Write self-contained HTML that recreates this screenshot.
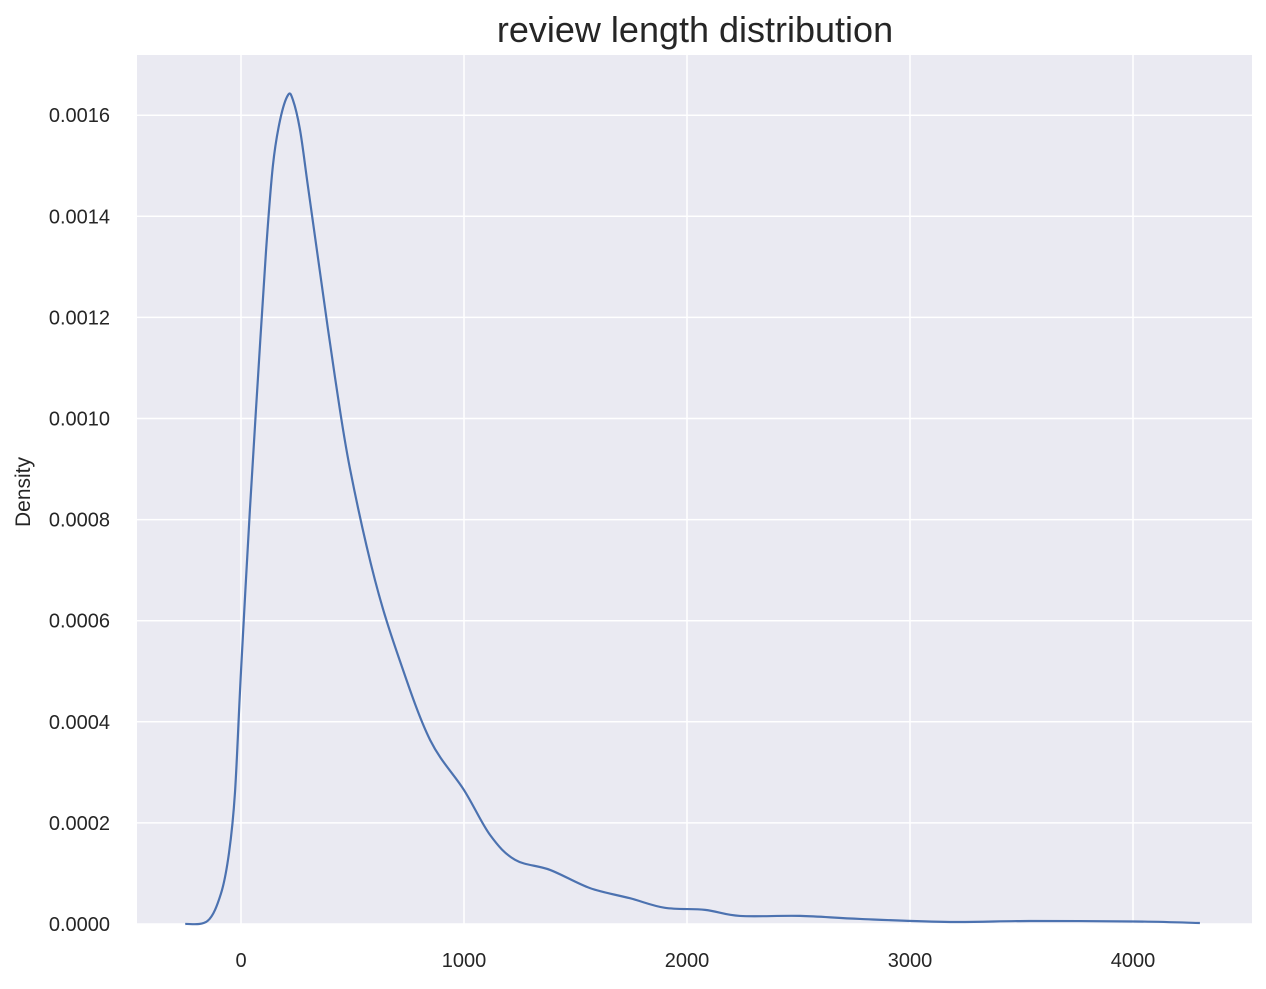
<!DOCTYPE html>
<html><head><meta charset="utf-8"><style>
body{margin:0;background:#fff;font-family:"Liberation Sans",sans-serif;}
</style></head><body>
<svg width="1266" height="984" id="chart" xmlns="http://www.w3.org/2000/svg">
<text x="695" y="42" text-anchor="middle" font-size="36" fill="#262626">review length distribution</text>
<text transform="translate(30,492) rotate(-90)" text-anchor="middle" font-size="21" fill="#262626">Density</text>
</svg>
<script>
const xTicks=[0,1000,2000,3000,4000];
const yTicks=[0,0.0002,0.0004,0.0006,0.0008,0.0010,0.0012,0.0014,0.0016];
const yTickLabels=["0.0000","0.0002","0.0004","0.0006","0.0008","0.0010","0.0012","0.0014","0.0016"];
const xs=[-250,-150,-90,-54,-27,0,40,76,112,143,175,211,233,265,300,354,422,489,601,713,848,1000,1117,1229,1386,1565,1744,1901,2081,2238,2507,2776,3179,3538,4009,4300];
const ys=[0,0.000006,0.00006,0.00014,0.00026,0.0005,0.00082,0.00108,0.00133,0.0015,0.00159,0.00164,0.00163,0.00157,0.00146,0.00129,0.00108,0.0009,0.00068,0.00052,0.000364,0.000265,0.000176,0.000127,0.000107,0.000071,0.000051,0.000032,0.000028,0.000016,0.000016,0.00001,0.000004,0.000006,0.000005,0.000002];
const L=137,R=1252,T=55,B=924;
const sx=v=>241+v*0.223;
const sy=v=>B-v*505500;
const svg=document.getElementById('chart');
const NS='http://www.w3.org/2000/svg';
function mk(t,a){const e=document.createElementNS(NS,t);for(const k in a)e.setAttribute(k,a[k]);svg.appendChild(e);return e;}
const bg=mk('rect',{x:L,y:T,width:R-L,height:B-T,fill:'#eaeaf2'});


xTicks.forEach(v=>{
 const g=mk('line',{x1:sx(v),x2:sx(v),y1:T,y2:B,stroke:'#fff','stroke-width':1.5});
 
 
 const t=mk('text',{x:sx(v),y:B+43,'text-anchor':'middle','font-size':20,fill:'#262626'});
 t.textContent=v;
 
 
});
yTicks.forEach((v,i)=>{
 const g=mk('line',{x1:L,x2:R,y1:sy(v),y2:sy(v),stroke:'#fff','stroke-width':1.5});
 
 
 const t=mk('text',{x:L-27,y:sy(v)+7,'text-anchor':'end','font-size':20,fill:'#262626'});
 t.textContent=yTickLabels[i];
 
 
});
const P=xs.map((x,i)=>[sx(x),sy(ys[i])]);
let d='M'+P[0][0]+','+P[0][1];
for(let i=0;i<P.length-1;i++){
 const p0=P[i-1]||P[i],p1=P[i],p2=P[i+1],p3=P[i+2]||p2;
 const c1=[p1[0]+(p2[0]-p0[0])/6,p1[1]+(p2[1]-p0[1])/6];
 const c2=[p2[0]-(p3[0]-p1[0])/6,p2[1]-(p3[1]-p1[1])/6];
 d+=` C${c1[0]},${c1[1]} ${c2[0]},${c2[1]} ${p2[0]},${p2[1]}`;
}
const line=mk('path',{d:d,fill:'none',stroke:'#4c72b0','stroke-width':2.2,'stroke-linejoin':'round'});


</script>
</body></html>
